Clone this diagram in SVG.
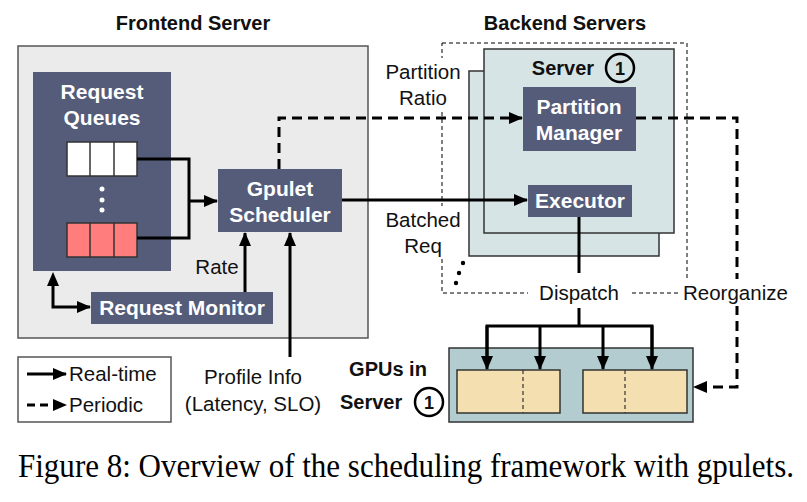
<svg xmlns="http://www.w3.org/2000/svg" width="807" height="502" viewBox="0 0 807 502">
<defs>
<style>
.t{font-family:"Liberation Sans",Arial,sans-serif;font-size:20.5px;fill:#111}
.tb{font-family:"Liberation Sans",Arial,sans-serif;font-size:20px;font-weight:bold;fill:#111}
.w{font-family:"Liberation Sans",Arial,sans-serif;font-size:21px;font-weight:bold;fill:#fff}
.dark{fill:#555c79}
.solid{fill:none;stroke:#000;stroke-width:3}
.dash{fill:none;stroke:#000;stroke-width:3;stroke-dasharray:10 6}
.cap{font-family:"Liberation Serif","Times New Roman",serif;font-size:30px;fill:#000}
</style>
<marker id="ah" markerUnits="userSpaceOnUse" markerWidth="14" markerHeight="12" refX="13" refY="6" orient="auto">
<path d="M0,0 L14,6 L0,12 Z" fill="#000"/>
</marker>
</defs>
<rect width="807" height="502" fill="#fff"/>

<text class="tb" x="193" y="30" text-anchor="middle">Frontend Server</text>
<text class="tb" x="565" y="30" text-anchor="middle">Backend Servers</text>

<g id="frontend">
<rect x="18" y="46" width="350" height="292" fill="#ebebeb" stroke="#555" stroke-width="1.5"/>
</g>

<g id="request-queues">
<rect class="dark" x="33" y="72" width="138" height="199"/>
<text class="w" x="102" y="99" text-anchor="middle">Request</text>
<text class="w" x="102" y="125" text-anchor="middle">Queues</text>
<rect x="67" y="142" width="70" height="34" fill="#fff" stroke="#333" stroke-width="1.5"/>
<line x1="90" y1="142" x2="90" y2="176" stroke="#333" stroke-width="1.5"/>
<line x1="114" y1="142" x2="114" y2="176" stroke="#333" stroke-width="1.5"/>
<circle cx="102" cy="189" r="2.5" fill="#fff"/>
<circle cx="102" cy="200" r="2.5" fill="#fff"/>
<circle cx="102" cy="210" r="2.5" fill="#fff"/>
<rect x="67" y="223" width="70" height="34" fill="#ff7d7d" stroke="#333" stroke-width="1.5"/>
<line x1="90" y1="223" x2="90" y2="257" stroke="#333" stroke-width="1.5"/>
<line x1="114" y1="223" x2="114" y2="257" stroke="#333" stroke-width="1.5"/>
</g>

<g id="gpulet-scheduler">
<rect class="dark" x="218" y="169" width="124" height="63"/>
<text class="w" x="280" y="196" text-anchor="middle">Gpulet</text>
<text class="w" x="280" y="222" text-anchor="middle">Scheduler</text>
</g>

<g id="request-monitor">
<rect class="dark" x="91" y="292" width="182" height="32"/>
<text class="w" x="182" y="315" text-anchor="middle">Request Monitor</text>
</g>

<g id="backend">
<rect x="442" y="43" width="245" height="250" fill="none" stroke="#000" stroke-width="1" stroke-dasharray="4 3"/>
</g>

<g id="server-back">
<rect x="469" y="71" width="190" height="185" fill="#d6e4e6" stroke="#333" stroke-width="1.5"/>
</g>
<g id="server-1">
<rect x="484" y="49" width="190" height="184" fill="#d6e4e6" stroke="#333" stroke-width="1.5"/>
<text class="tb" x="563" y="75" text-anchor="middle">Server</text>
<circle cx="620" cy="68" r="14" fill="none" stroke="#000" stroke-width="2.5"/>
<text class="tb" x="620" y="75" text-anchor="middle" style="font-size:18px">1</text>
</g>

<g id="partition-manager">
<rect class="dark" x="523" y="87" width="113" height="64"/>
<text class="w" x="579" y="114" text-anchor="middle">Partition</text>
<text class="w" x="579" y="140" text-anchor="middle">Manager</text>
</g>

<g id="executor">
<rect class="dark" x="528" y="185" width="104" height="32"/>
<text class="w" x="580" y="208" text-anchor="middle">Executor</text>
</g>

<g id="gpus">
<rect x="449" y="348" width="244" height="74" fill="#b3cccf" stroke="#333" stroke-width="1.5"/>
<rect x="457" y="370" width="103" height="43" fill="#f4dfb0" stroke="#333" stroke-width="1.5"/>
<line x1="523" y1="370" x2="523" y2="413" stroke="#333" stroke-width="1.2" stroke-dasharray="4 3"/>
<rect x="583" y="370" width="104" height="43" fill="#f4dfb0" stroke="#333" stroke-width="1.5"/>
<line x1="625" y1="370" x2="625" y2="413" stroke="#333" stroke-width="1.2" stroke-dasharray="4 3"/>
<text class="tb" x="388" y="376" text-anchor="middle">GPUs in</text>
<text class="tb" x="340" y="409">Server</text>
<circle cx="429" cy="402" r="14" fill="none" stroke="#000" stroke-width="2.5"/>
<text class="tb" x="429" y="409" text-anchor="middle" style="font-size:18px">1</text>
</g>

<g id="connectors">
<polyline class="solid" points="137,159 189,159 189,238 137,238"/>
<line class="solid" x1="189" y1="201" x2="217" y2="201" marker-end="url(#ah)"/>
<polyline class="dash" points="279,169 279,118 522,118" marker-end="url(#ah)"/>
<line class="solid" x1="342" y1="200" x2="527" y2="200" marker-end="url(#ah)"/>
<polyline class="dash" points="636,118 737,118 737,387 694,387" marker-end="url(#ah)"/>
<line class="solid" x1="245" y1="292" x2="245" y2="233" marker-end="url(#ah)"/>
<line class="solid" x1="290" y1="357" x2="290" y2="233" marker-end="url(#ah)"/>
<polyline class="solid" points="53,280 53,307 90,307" marker-end="url(#ah)"/>
<path d="M53,272 L47,286 L59,286 Z" fill="#000"/>
<line class="solid" x1="579" y1="217" x2="579" y2="273"/>
<line class="solid" x1="579" y1="308" x2="579" y2="326"/>
<polyline class="solid" points="487,360 487,326 652,326 652,360"/>
<line class="solid" x1="487" y1="326" x2="487" y2="369" marker-end="url(#ah)"/>
<line class="solid" x1="540" y1="326" x2="540" y2="369" marker-end="url(#ah)"/>
<line class="solid" x1="603" y1="326" x2="603" y2="369" marker-end="url(#ah)"/>
<line class="solid" x1="652" y1="326" x2="652" y2="369" marker-end="url(#ah)"/>
</g>

<g id="labels">
<rect x="378" y="58" width="66" height="54" fill="#fff"/>
<text class="t" x="423" y="79" text-anchor="middle">Partition</text>
<text class="t" x="423" y="105" text-anchor="middle">Ratio</text>
<rect x="376" y="206" width="70" height="52" fill="#fff"/>
<text class="t" x="423" y="227" text-anchor="middle">Batched</text>
<text class="t" x="423" y="253" text-anchor="middle">Req</text>
<circle cx="463" cy="263" r="2.2" fill="#000"/>
<circle cx="459" cy="273" r="2.2" fill="#000"/>
<circle cx="456" cy="283" r="2.2" fill="#000"/>
<rect x="528" y="279" width="104" height="27" fill="#fff"/>
<text class="t" x="579" y="300" text-anchor="middle">Dispatch</text>
<rect x="678" y="279" width="125" height="27" fill="#fff"/>
<text class="t" x="683" y="300">Reorganize</text>
<text class="t" x="217" y="274" text-anchor="middle">Rate</text>
<text class="t" x="253" y="384" text-anchor="middle">Profile Info</text>
<text class="t" x="253" y="411" text-anchor="middle">(Latency, SLO)</text>
</g>

<g id="legend">
<rect x="18" y="357" width="153" height="65" fill="#fff" stroke="#555" stroke-width="1.5"/>
<line class="solid" x1="27" y1="374" x2="66" y2="374" marker-end="url(#ah)"/>
<text class="t" x="69" y="381">Real-time</text>
<line class="dash" x1="27" y1="405" x2="66" y2="405" style="stroke-dasharray:8 5" marker-end="url(#ah)"/>
<text class="t" x="69" y="412">Periodic</text>
</g>

<g transform="translate(18,477) scale(1,1.1)">
<text class="cap" x="0" y="0" textLength="776" lengthAdjust="spacingAndGlyphs">Figure 8: Overview of the scheduling framework with gpulets.</text>
</g>
</svg>
